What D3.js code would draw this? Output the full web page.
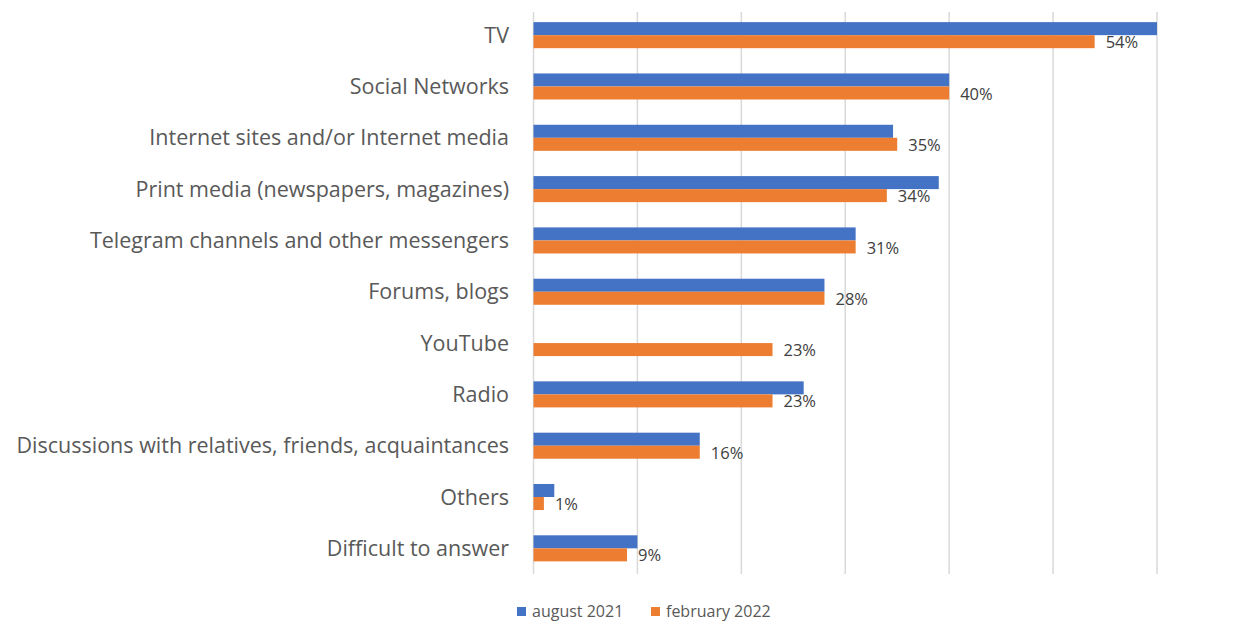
<!DOCTYPE html>
<html>
<head>
<meta charset="utf-8">
<script src="https://cdn.jsdelivr.net/npm/d3@7"></script>
<style>
  html, body { margin: 0; padding: 0; background: #fff; }
  svg { display: block; font-family: "Open Sans", "Noto Sans", sans-serif; }
</style>
</head>
<body>
<svg id="chart" width="1253" height="623"></svg>
<script>
// Sources of information, share of respondents (%)
const categories = [
  "TV",
  "Social Networks",
  "Internet sites and/or Internet media",
  "Print media (newspapers, magazines)",
  "Telegram channels and other messengers",
  "Forums, blogs",
  "YouTube",
  "Radio",
  "Discussions with relatives, friends, acquaintances",
  "Others",
  "Difficult to answer"
];
const seriesNames = ["august 2021", "february 2022"];
const aug2021 = [60, 40, 34.6, 39, 31, 28, null, 26, 16, 2, 10];
const feb2022 = [54, 40, 35, 34, 31, 28, 23, 23, 16, 1, 9];
const xTicks = [0, 10, 20, 30, 40, 50, 60];
const colors = ["#4472C4", "#ED7D31"];

const svg = d3.select("#chart");

const x = d3.scaleLinear().domain([0, 60]).range([533.5, 1157]);
const y = d3.scaleBand().domain(categories).range([9.5, 574]).padding(0);
const sub = d3.scaleBand().domain(seriesNames)
  .range([0, y.bandwidth()]).paddingInner(0).paddingOuter(0.97);

// vertical gridlines
svg.append("g")
  .selectAll("line")
  .data(xTicks)
  .join("line")
  .attr("x1", d => x(d)).attr("x2", d => x(d))
  .attr("y1", 12).attr("y2", 574)
  .attr("stroke", "#d9d9d9")
  .attr("stroke-width", 1.5);

// category labels
svg.append("g")
  .selectAll("text")
  .data(categories)
  .join("text")
  .attr("x", 509)
  .attr("y", d => y(d) + y.bandwidth() / 2)
  .attr("dy", "0.35em")
  .attr("text-anchor", "end")
  .attr("fill", "#595959")
  .attr("font-size", 21.5)
  .text(d => d);

const series = [aug2021, feb2022];
series.forEach((vals, si) => {
  const rows = categories.map((c, i) => ({ c, v: vals[i] })).filter(d => d.v != null);
  svg.append("g")
    .selectAll("rect")
    .data(rows)
    .join("rect")
    .attr("x", x(0))
    .attr("y", d => y(d.c) + sub(seriesNames[si]))
    .attr("width", d => x(d.v) - x(0))
    .attr("height", sub.bandwidth())
    .attr("fill", colors[si]);
});

// value labels for february 2022
svg.append("g")
  .selectAll("text")
  .data(categories.map((c, i) => ({ c, v: feb2022[i] })))
  .join("text")
  .attr("x", d => x(d.v) + 11)
  .attr("y", d => y(d.c) + sub(seriesNames[1]) + sub.bandwidth() / 2)
  .attr("dy", "0.4em")
  .attr("fill", "#404040")
  .attr("font-size", 16.5)
  .text(d => d.v + "%");

// legend
const legend = svg.append("g").attr("transform", "translate(517,611)");
const items = [{ name: seriesNames[0], x: 0 }, { name: seriesNames[1], x: 134 }];
items.forEach((it, i) => {
  legend.append("rect")
    .attr("x", it.x).attr("y", -4)
    .attr("width", 9).attr("height", 9)
    .attr("fill", colors[i]);
  legend.append("text")
    .attr("x", it.x + 15).attr("y", 0)
    .attr("dy", "0.35em")
    .attr("fill", "#595959")
    .attr("font-size", 16)
    .text(it.name);
});
</script>
</body>
</html>
